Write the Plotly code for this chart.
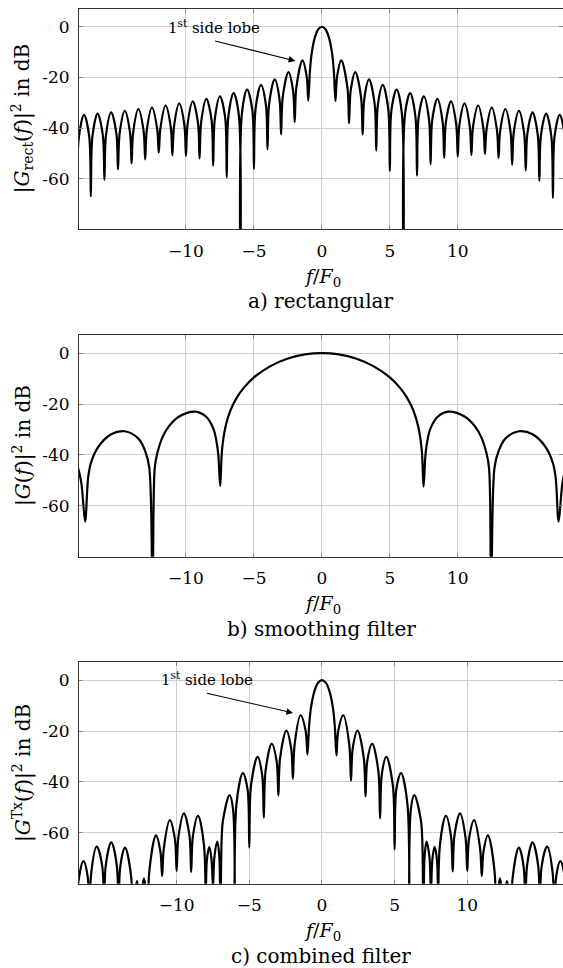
import plotly.graph_objects as go

W, H = 563, 968

# ---- tick labels -------------------------------------------------------
X_TICKS = [-10, -5, 0, 5, 10]
X_TICK_TEXT = ["\u221210", "\u22125", "0", "5", "10"]
Y_TICKS = [0, -20, -40, -60]
Y_TICK_TEXT = ["0", "-20", "-40", "-60"]

# ---- a) rectangular pulse spectrum (f/F0, dB) ---------------------------
RECT_F = [
    -18.0, -17.88, -17.5, -17.12, -17.0, -16.88, -16.5, -16.12, -16.0,
    -15.88, -15.5, -15.12, -15.0, -14.88, -14.5, -14.12, -14.0,
    -13.88, -13.5, -13.12, -13.0, -12.88, -12.5, -12.12, -12.0,
    -11.88, -11.5, -11.12, -11.0, -10.88, -10.5, -10.12, -10.0,
    -9.88, -9.5, -9.12, -9.0, -8.88, -8.5, -8.12, -8.0,
    -7.88, -7.5, -7.12, -7.0, -6.88, -6.5, -6.12, -6.0,
    -5.88, -5.5, -5.12, -5.0, -4.88, -4.48, -4.12, -4.0,
    -3.88, -3.47, -3.12, -3.0, -2.88, -2.46, -2.12, -2.0,
    -1.88, -1.43, -1.12, -1.0,
    -0.88, -0.75, -0.5, -0.25, 0.0, 0.25, 0.5, 0.75, 0.88,
    1.0, 1.12, 1.43, 1.88, 2.0, 2.12, 2.46, 2.88, 3.0,
    3.12, 3.47, 3.88, 4.0, 4.12, 4.48, 4.88, 5.0,
    5.12, 5.5, 5.88, 6.0, 6.12, 6.5, 6.88, 7.0,
    7.12, 7.5, 7.88, 8.0, 8.12, 8.5, 8.88, 9.0,
    9.12, 9.5, 9.88, 10.0, 10.12, 10.5, 10.88, 11.0,
    11.12, 11.5, 11.88, 12.0, 12.12, 12.5, 12.88, 13.0,
    13.12, 13.5, 13.88, 14.0, 14.12, 14.5, 14.88, 15.0,
    15.12, 15.5, 15.88, 16.0, 16.12, 16.5, 16.88, 17.0,
    17.12, 17.5, 17.88, 18.0,
]
RECT_DB = [
    -75.0, -43.7, -34.8, -43.3, -67.0, -43.2, -34.3, -42.8, -60.5,
    -42.6, -33.8, -42.2, -56.3, -42.1, -33.2, -41.6, -54.0,
    -41.5, -32.5, -41.0, -52.4, -40.8, -31.9, -40.3, -49.7,
    -40.1, -31.1, -39.5, -50.8, -39.4, -30.3, -38.7, -51.0,
    -38.5, -29.5, -37.8, -52.0, -37.6, -28.5, -36.8, -54.9,
    -36.6, -27.5, -35.7, -59.5, -35.4, -26.2, -34.4, -110.0,
    -34.0, -24.8, -32.8, -56.2, -32.4, -23.0, -30.9, -48.4,
    -30.4, -20.8, -28.5, -42.5, -27.8, -17.9, -25.2, -37.6,
    -24.1, -13.3, -19.6, -29.2,
    -17.5, -10.5, -3.9, -0.9, 0.0, -0.9, -3.9, -10.5, -17.5,
    -29.3, -19.6, -13.3, -24.1, -38.1, -25.2, -17.9, -27.8, -42.6,
    -28.5, -20.8, -30.4, -48.9, -30.9, -23.0, -32.4, -57.0,
    -32.8, -24.8, -34.0, -110.0, -34.4, -26.2, -35.4, -58.8,
    -35.7, -27.5, -36.6, -54.3, -36.8, -28.5, -37.6, -51.8,
    -37.8, -29.5, -38.5, -51.3, -38.7, -30.3, -39.4, -50.6,
    -39.5, -31.1, -40.1, -50.2, -40.3, -31.9, -40.8, -51.8,
    -41.0, -32.5, -41.5, -54.5, -41.6, -33.2, -42.1, -56.7,
    -42.2, -33.8, -42.6, -60.9, -42.8, -34.3, -43.2, -67.7,
    -43.3, -34.8, -43.7, -75.0,
]

# ---- b) smoothing filter spectrum ---------------------------------------
SMOOTH_F = [
    -18.5, -18.0, -17.7, -17.42, -17.2, -17.0, -16.5, -15.5, -14.5,
    -13.5, -13.0, -12.7, -12.45, -12.3, -12.1, -11.75, -11.25, -10.5,
    -9.3, -8.5, -8.0, -7.75, -7.62, -7.48, -7.35, -7.1, -6.75, -6.25,
    -5.75, -5.0, -3.75, -2.5, -1.25, 0.0, 1.25, 2.5, 3.75, 5.0, 5.75,
    6.25, 6.75, 7.1, 7.35, 7.48, 7.62, 7.75, 8.0, 8.5, 9.3, 10.5,
    11.25, 11.75, 12.1, 12.3, 12.45, 12.7, 13.0, 13.5, 14.5, 15.5,
    16.5, 17.0, 17.2, 17.42, 17.7, 18.0, 18.5,
]
SMOOTH_DB = [
    -39.2, -44.3, -51.0, -66.2, -49.0, -43.3, -37.2, -31.9, -30.7,
    -33.6, -38.5, -45.0, -110.0, -45.3, -39.1, -33.3, -28.7, -24.9,
    -23.0, -25.1, -29.5, -34.8, -40.0, -52.3, -38.2, -29.1, -22.8, -17.4,
    -13.65, -9.5, -5.0, -2.1, -0.5, 0.0, -0.5, -2.1, -5.0, -9.5, -13.65,
    -17.4, -22.8, -29.1, -38.2, -52.5, -40.0, -34.8, -29.5, -25.1, -23.0, -24.9,
    -28.7, -33.3, -39.1, -45.3, -110.0, -45.0, -38.5, -33.6, -30.7, -31.9,
    -37.2, -43.3, -49.0, -66.2, -51.0, -44.3, -39.2,
]

# ---- c) combined filter spectrum ----------------------------------------
COMB_F = [
    -17.0, -16.88, -16.42, -16.12, -16.0, -15.88, -15.5, -15.12, -15.0,
    -14.88, -14.5, -14.12, -14.0, -13.88, -13.55, -13.12, -13.0,
    -12.9, -12.72, -12.6, -12.5, -12.4, -12.25, -12.1, -12.0,
    -11.88, -11.42, -11.12, -11.0, -10.88, -10.47, -10.12, -10.0,
    -9.88, -9.5, -9.12, -9.0, -8.88, -8.53, -8.12, -8.0,
    -7.92, -7.75, -7.6, -7.5, -7.4, -7.2, -7.06, -7.0,
    -6.9, -6.8, -6.36, -6.12, -6.0, -5.88, -5.44, -5.12, -5.0,
    -4.88, -4.43, -4.12, -4.0, -3.88, -3.46, -3.12, -3.0,
    -2.88, -2.45, -2.12, -2.0, -1.88, -1.47, -1.12, -1.0,
    -0.88, -0.75, -0.5, -0.25, 0.0, 0.25, 0.5, 0.75, 0.88,
    1.0, 1.12, 1.47, 1.88, 2.0, 2.12, 2.45, 2.88, 3.0,
    3.12, 3.46, 3.88, 4.0, 4.12, 4.43, 4.88, 5.0,
    5.12, 5.44, 5.88, 6.0, 6.12, 6.36, 6.8, 6.9, 7.0,
    7.06, 7.2, 7.4, 7.5, 7.6, 7.75, 7.92, 8.0,
    8.12, 8.53, 8.88, 9.0, 9.12, 9.5, 9.88, 10.0,
    10.12, 10.47, 10.88, 11.0, 11.12, 11.42, 11.88, 12.0,
    12.1, 12.25, 12.4, 12.5, 12.6, 12.72, 12.9, 13.0,
    13.12, 13.55, 13.88, 14.0, 14.12, 14.5, 14.88, 15.0,
    15.12, 15.5, 15.88, 16.0, 16.12, 16.42, 16.88, 17.0,
]
COMB_DB = [
    -110.0, -84.6, -71.1, -77.3, -110.0, -75.9, -65.4, -73.2, -110.0,
    -72.9, -63.8, -72.8, -110.0, -73.3, -65.8, -77.9, -110.0,
    -85.0, -79.0, -85.0, -110.0, -84.0, -77.9, -84.0, -110.0,
    -75.2, -61.0, -67.3, -77.0, -65.9, -55.0, -62.5, -75.0,
    -61.8, -52.4, -61.0, -75.4, -61.3, -53.3, -64.8, -110.0,
    -70.8, -65.5, -70.4, -81.0, -69.6, -63.5, -69.7, -110.0,
    -62.0, -54.7, -45.2, -50.7, -110.0, -48.5, -36.5, -42.9, -65.8,
    -41.4, -30.2, -37.0, -54.0, -35.7, -25.0, -31.8, -45.4,
    -30.6, -19.8, -26.7, -38.8, -25.3, -13.8, -20.0, -29.2,
    -17.8, -10.6, -4.0, -0.9, 0.0, -0.9, -4.0, -10.6, -17.8,
    -29.6, -20.0, -13.8, -25.3, -39.5, -26.7, -19.8, -30.6, -45.7,
    -31.8, -25.0, -35.7, -54.3, -37.0, -30.2, -41.4, -66.6,
    -42.9, -36.5, -48.5, -110.0, -50.7, -45.2, -54.7, -62.0, -110.0,
    -69.7, -63.5, -69.6, -83.0, -70.4, -65.5, -70.8, -110.0,
    -64.8, -53.3, -61.3, -75.2, -61.0, -52.4, -61.8, -75.0,
    -62.5, -55.0, -65.9, -77.0, -67.3, -61.0, -75.2, -110.0,
    -84.0, -77.9, -84.0, -110.0, -85.0, -79.0, -85.0, -110.0,
    -77.9, -65.8, -73.3, -110.0, -72.8, -63.8, -72.9, -110.0,
    -73.2, -65.4, -75.9, -110.0, -77.3, -71.1, -84.6, -110.0,
]

# ---- panel definitions -------------------------------------------------
FONT = "DejaVu Serif"
PANELS = [
    dict(f=RECT_F, db=RECT_DB, xr=[-17.87, 17.74], top=9.0, bottom=229.3,
         ylabel="|<i>G</i><sub>rect</sub>(<i>f</i>)|<sup>2</sup> in dB",
         caption="a) rectangular",
         note=dict(tx=-7.95, ty=-0.3, ax=-7.97, ay=-5.5, hx=-1.96, hy=-13.5)),
    dict(f=SMOOTH_F, db=SMOOTH_DB, xr=[-17.87, 17.74], top=335.3, bottom=556.7,
         ylabel="|<i>G</i>(<i>f</i>)|<sup>2</sup> in dB",
         caption="b) smoothing filter", note=None),
    dict(f=COMB_F, db=COMB_DB, xr=[-16.72, 16.59], top=662.3, bottom=883.7,
         ylabel="|<i>G</i><sup>Tx</sup>(<i>f</i>)|<sup>2</sup> in dB",
         caption="c) combined filter",
         note=dict(tx=-7.93, ty=0.5, ax=-8.02, ay=-5.0, hx=-1.99, hy=-12.9)),
]

LEFT_PX = 79.0

fig = go.Figure()
annotations = []
layout_axes = {}

for i, p in enumerate(PANELS, start=1):
    xa = "x" if i == 1 else f"x{i}"
    ya = "y" if i == 1 else f"y{i}"
    fig.add_trace(go.Scatter(
        x=p["f"], y=p["db"], mode="lines",
        line=dict(color="black", width=2.2, shape="spline", smoothing=1.0),
        xaxis=xa, yaxis=ya, showlegend=False, hoverinfo="skip"))

    common = dict(showline=True, linecolor="#333333", linewidth=1,
                  mirror="allticks", ticks="inside", ticklen=4,
                  tickcolor="#8a8a8a", tickwidth=1,
                  showgrid=True, gridcolor="#cfcfcf", gridwidth=1,
                  zeroline=False,
                  tickfont=dict(family=FONT, size=17, color="black"))
    y0 = 1 - p["bottom"] / H
    y1 = 1 - p["top"] / H
    layout_axes["xaxis" if i == 1 else f"xaxis{i}"] = dict(
        common, domain=[LEFT_PX / W, 1.0], range=p["xr"], anchor=ya,
        tickmode="array", tickvals=X_TICKS, ticktext=X_TICK_TEXT,
        ticklabelstandoff=6)
    layout_axes["yaxis" if i == 1 else f"yaxis{i}"] = dict(
        common, domain=[y0, y1], range=[-80, 7], anchor=xa,
        tickmode="array", tickvals=Y_TICKS, ticktext=Y_TICK_TEXT,
        ticklabelstandoff=5)

    mid = (p["top"] + p["bottom"]) / 2
    annotations.append(dict(
        x=22 / W, y=1 - mid / H, xref="paper", yref="paper",
        text=p["ylabel"], textangle=-90, showarrow=False,
        font=dict(family=FONT, size=20, color="black"),
        xanchor="center", yanchor="middle"))
    annotations.append(dict(
        x=322 / W, y=1 - (p["bottom"] + 48) / H, xref="paper", yref="paper",
        text="<i>f</i>/<i>F</i><sub>0</sub>", showarrow=False,
        font=dict(family=FONT, size=19, color="black"),
        xanchor="center", yanchor="middle"))
    annotations.append(dict(
        x=321 / W, y=1 - (p["bottom"] + 72) / H, xref="paper", yref="paper",
        text=p["caption"], showarrow=False,
        font=dict(family=FONT, size=20, color="black"),
        xanchor="center", yanchor="middle"))
    n = p["note"]
    if n:
        annotations.append(dict(
            x=n["tx"], y=n["ty"], xref=xa, yref=ya,
            text="1<sup>st</sup> side lobe", showarrow=False,
            font=dict(family=FONT, size=15, color="black"),
            xanchor="center", yanchor="middle"))
        annotations.append(dict(
            x=n["hx"], y=n["hy"], ax=n["ax"], ay=n["ay"],
            xref=xa, yref=ya, axref=xa, ayref=ya,
            text="", showarrow=True, arrowhead=2, arrowsize=1.2,
            arrowwidth=1.1, arrowcolor="black", standoff=0, startstandoff=0))

fig.update_layout(
    width=W, height=H, margin=dict(l=0, r=0, t=0, b=0),
    paper_bgcolor="white", plot_bgcolor="white",
    annotations=annotations, **layout_axes)

fig.write_html(
    "out.html",
    config={"displayModeBar": False},
    post_script="document.body.style.margin='0px';"
                "document.body.style.overflow='hidden';")
